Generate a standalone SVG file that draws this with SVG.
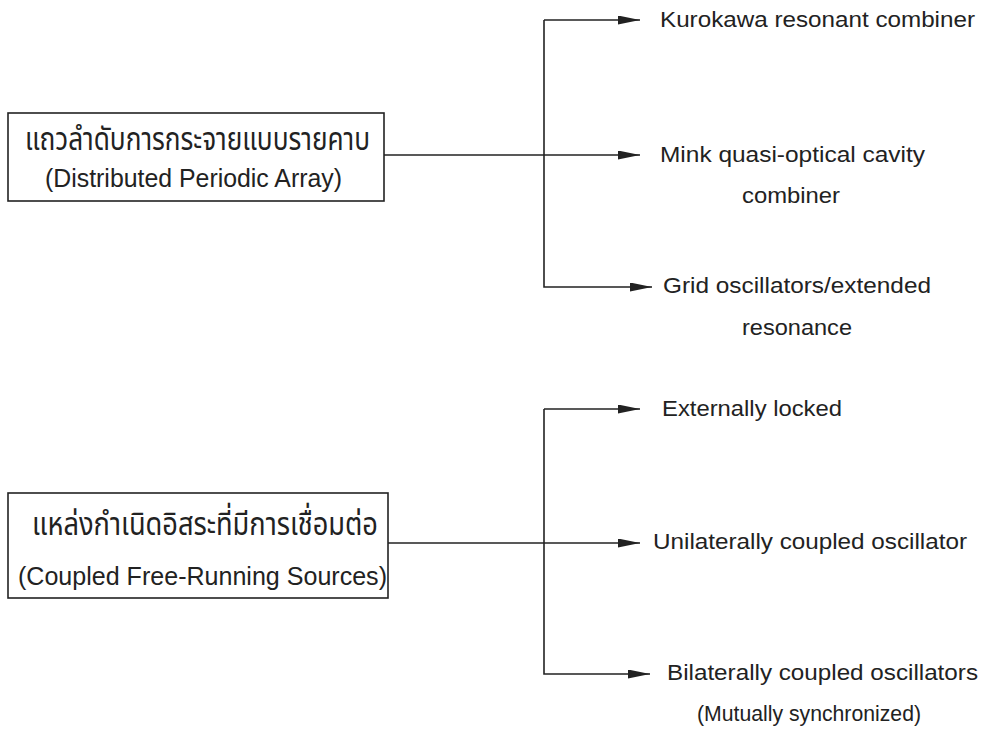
<svg xmlns="http://www.w3.org/2000/svg" width="983" height="732" viewBox="0 0 983 732">
<defs>
<style>
.box{fill:#fff;stroke:#222;stroke-width:1.6}
.ln{fill:none;stroke:#222;stroke-width:1.6}
.th{font-family:"Noto Sans Thai","Noto Sans","DejaVu Sans",sans-serif;font-size:32px;fill:#222}
.en{font-family:"Liberation Sans",Arial,sans-serif;font-size:25px;fill:#222}
.lb{font-family:"Liberation Sans",Arial,sans-serif;font-size:21.5px;fill:#222}
</style>
<marker id="ah" viewBox="0 0 22 9" refX="22" refY="4.5" markerWidth="22" markerHeight="9" markerUnits="userSpaceOnUse" orient="auto">
<path d="M0,0 L22,4.5 L0,9 Z" fill="#222"/>
</marker>
</defs>
<rect width="983" height="732" fill="#fff"/>
<g id="connectors">
<path class="ln" d="M384,155 H640" marker-end="url(#ah)"/>
<path class="ln" d="M544,20 H640" marker-end="url(#ah)"/>
<path class="ln" d="M544,20 V287 H652" marker-end="url(#ah)"/>
<path class="ln" d="M388,543 H640" marker-end="url(#ah)"/>
<path class="ln" d="M544,409 H640" marker-end="url(#ah)"/>
<path class="ln" d="M544,409 V674 H650" marker-end="url(#ah)"/>
</g>
<g id="node-distributed">
<rect class="box" x="8" y="113" width="376" height="88"/>
<text class="th" x="25" y="150" textLength="345" lengthAdjust="spacingAndGlyphs">แถวลำดับการกระจายแบบรายคาบ</text>
<text class="en" x="45" y="187" textLength="297" lengthAdjust="spacingAndGlyphs">(Distributed Periodic Array)</text>
</g>
<g id="node-coupled">
<rect class="box" x="8" y="493" width="380" height="105"/>
<text class="th" x="32" y="535" textLength="346" lengthAdjust="spacingAndGlyphs">แหล่งกำเนิดอิสระที่มีการเชื่อมต่อ</text>
<text class="en" x="18" y="585" textLength="369" lengthAdjust="spacingAndGlyphs">(Coupled Free-Running Sources)</text>
</g>
<g id="node-kurokawa">
<text class="lb" x="660" y="27" textLength="315" lengthAdjust="spacingAndGlyphs">Kurokawa resonant combiner</text>
</g>
<g id="node-mink">
<text class="lb" x="660" y="162" textLength="265" lengthAdjust="spacingAndGlyphs">Mink quasi-optical cavity</text>
<text class="lb" x="742" y="203" textLength="98" lengthAdjust="spacingAndGlyphs">combiner</text>
</g>
<g id="node-grid">
<text class="lb" x="663" y="293" textLength="268" lengthAdjust="spacingAndGlyphs">Grid oscillators/extended</text>
<text class="lb" x="742" y="335" textLength="110" lengthAdjust="spacingAndGlyphs">resonance</text>
</g>
<g id="node-external">
<text class="lb" x="662" y="416" textLength="180" lengthAdjust="spacingAndGlyphs">Externally locked</text>
</g>
<g id="node-unilateral">
<text class="lb" x="653" y="549" textLength="314" lengthAdjust="spacingAndGlyphs">Unilaterally coupled oscillator</text>
</g>
<g id="node-bilateral">
<text class="lb" x="667" y="680" textLength="311" lengthAdjust="spacingAndGlyphs">Bilaterally coupled oscillators</text>
<text class="lb" x="697" y="721" textLength="224" lengthAdjust="spacingAndGlyphs">(Mutually synchronized)</text>
</g>
</svg>
